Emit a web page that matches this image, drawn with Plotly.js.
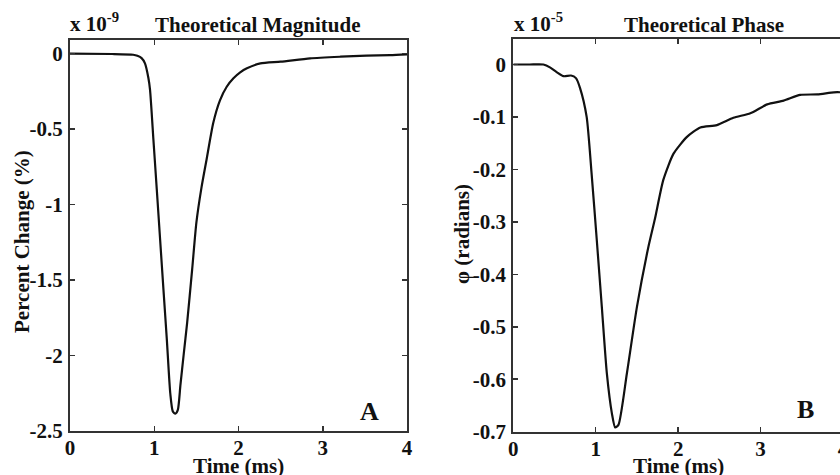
<!DOCTYPE html>
<html>
<head>
<meta charset="utf-8">
<script src="https://cdn.plot.ly/plotly-3.0.1.min.js"></script>
<style>
html, body { margin: 0; padding: 0; overflow: hidden; background: #fff; width: 840px; height: 475px; }
#wrap { width: 840px; height: 475px; overflow: hidden; position: relative; }
#chart { width: 848px; height: 475px; position: absolute; left: 0; top: 0; }
</style>
</head>
<body>
<div id="wrap"><div id="chart"></div></div>
<script>
// Theoretical magnitude (percent change, x 10^-9) vs time (ms)
const magTime = [0, 0.5, 0.75, 0.8, 0.85, 0.89, 0.93, 0.95, 0.99, 1.03, 1.07, 1.11, 1.15, 1.19, 1.22, 1.25, 1.28, 1.31, 1.35, 1.39, 1.45, 1.50, 1.56, 1.62, 1.70, 1.78, 1.86, 1.94, 2.02, 2.10, 2.26, 2.50, 2.85, 3.21, 3.52, 3.80, 4.0];
const magValue = [0, -0.003, -0.008, -0.015, -0.03, -0.065, -0.16, -0.24, -0.57, -0.90, -1.235, -1.57, -1.90, -2.25, -2.37, -2.385, -2.36, -2.2, -1.99, -1.785, -1.43, -1.12, -0.89, -0.705, -0.46, -0.31, -0.22, -0.164, -0.125, -0.098, -0.065, -0.054, -0.032, -0.021, -0.014, -0.011, -0.006];

// Theoretical phase (radians, x 10^-5) vs time (ms)
const phaseTime = [0, 0.2, 0.365, 0.45, 0.53, 0.61, 0.70, 0.76, 0.81, 0.89, 0.95, 1.013, 1.074, 1.135, 1.196, 1.236, 1.276, 1.378, 1.50, 1.64, 1.72, 1.82, 1.944, 2.107, 2.27, 2.47, 2.67, 2.876, 3.08, 3.28, 3.48, 3.69, 3.89, 4.0];
const phaseValue = [0, 0, 0, -0.006, -0.015, -0.0223, -0.021, -0.026, -0.045, -0.10, -0.208, -0.335, -0.462, -0.589, -0.665, -0.692, -0.687, -0.589, -0.462, -0.347, -0.293, -0.22, -0.17, -0.138, -0.12, -0.1156, -0.1016, -0.093, -0.076, -0.069, -0.058, -0.057, -0.053, -0.053];

const timeTicks = [0, 1, 2, 3, 4];
const magTicks = [0, -0.5, -1, -1.5, -2, -2.5];
const magTickText = ['0', '-0.5', '-1', '-1.5', '-2', '-2.5'];
const phaseTicks = [0, -0.1, -0.2, -0.3, -0.4, -0.5, -0.6, -0.7];
const phaseTickText = ['0', '-0.1', '-0.2', '-0.3', '-0.4', '-0.5', '-0.6', '-0.7'];

const W = 848, H = 475;
const px = v => v / W;           // pixel -> paper x
const py = v => 1 - v / H;       // pixel -> paper y

const SERIF = 'Liberation Serif, Times New Roman, serif';
const tf = { family: SERIF, size: 21, color: '#111', weight: 'bold' };

const traces = [
  { x: magTime, y: magValue, type: 'scatter', mode: 'lines', xaxis: 'x', yaxis: 'y',
    line: { color: '#111', width: 2.2, shape: 'spline', smoothing: 0.6 }, hoverinfo: 'skip', showlegend: false },
  { x: phaseTime, y: phaseValue, type: 'scatter', mode: 'lines', xaxis: 'x2', yaxis: 'y2',
    line: { color: '#111', width: 2.2, shape: 'spline', smoothing: 0.6 }, hoverinfo: 'skip', showlegend: false }
];

function axisBase() {
  return {
    showgrid: false, zeroline: false, showline: true, linecolor: '#333', linewidth: 2,
    mirror: 'ticks', ticks: 'inside', ticklen: 5, tickwidth: 1.5, tickcolor: '#333',
    tickfont: tf, automargin: false, fixedrange: true, ticklabeloverflow: 'allow'
  };
}

function txt(text, x, y, xanchor, yanchor, extra) {
  return Object.assign({ xref: 'paper', yref: 'paper', x: x, y: y, xanchor: xanchor, yanchor: yanchor,
    text: text, showarrow: false, font: tf }, extra || {});
}

const layout = {
  width: W, height: H,
  margin: { l: 0, r: 0, t: 0, b: 0 },
  paper_bgcolor: '#fff', plot_bgcolor: '#fff',
  showlegend: false,
  xaxis: Object.assign(axisBase(), {
    domain: [px(70), px(407)], range: [0, 4], tickvals: timeTicks, ticktext: timeTicks.map(String),
    ticklabelstandoff: -3
  }),
  yaxis: Object.assign(axisBase(), {
    domain: [py(431), py(39.5)], range: [-2.5, 0.093], tickvals: magTicks, ticktext: magTickText,
    ticklabelstandoff: 1
  }),
  xaxis2: Object.assign(axisBase(), {
    anchor: 'y2',
    domain: [px(513.3), px(843)], range: [0, 4], tickvals: timeTicks, ticktext: timeTicks.map(String),
    ticklabelstandoff: -3
  }),
  yaxis2: Object.assign(axisBase(), {
    anchor: 'x2', mirror: false,
    domain: [py(431.7), py(39.3)], range: [-0.7, 0.048], tickvals: phaseTicks, ticktext: phaseTickText,
    ticklabelstandoff: 1
  }),
  // right-hand tick marks of the phase panel (its border line lies just beyond the picture edge)
  yaxis3: {
    overlaying: 'y2', anchor: 'x2', side: 'right', range: [-0.7, 0.048], tickvals: phaseTicks,
    showticklabels: false, showline: false, showgrid: false, zeroline: false,
    ticks: 'inside', ticklen: 5, tickwidth: 1.5, tickcolor: '#333', fixedrange: true
  },
  annotations: [
    txt('Theoretical Magnitude', px(258), py(25), 'center', 'middle'),
    txt('Theoretical Phase', px(704), py(25), 'center', 'middle'),
    txt('x 10<sup>-9</sup>', px(68), py(38), 'left', 'bottom'),
    txt('x 10<sup>-5</sup>', px(512), py(38), 'left', 'bottom'),
    txt('Time (ms)', px(239), py(466), 'center', 'middle'),
    txt('Time (ms)', px(678), py(466), 'center', 'middle'),
    txt('Percent Change (%)', px(22), py(242), 'center', 'middle', { textangle: -90 }),
    txt('φ (radians)', px(462), py(234), 'center', 'middle', { textangle: -90 }),
    { xref: 'x', yref: 'y', x: 3.56, y: -2.374, xanchor: 'center', yanchor: 'middle',
      text: 'A', showarrow: false, font: { family: SERIF, size: 26, color: '#111', weight: 'bold' } },
    { xref: 'x2', yref: 'y2', x: 3.545, y: -0.658, xanchor: 'center', yanchor: 'middle',
      text: 'B', showarrow: false, font: { family: SERIF, size: 26, color: '#111', weight: 'bold' } }
  ]
};

Plotly.newPlot('chart', traces, layout, { staticPlot: true, displayModeBar: false });
</script>
</body>
</html>
